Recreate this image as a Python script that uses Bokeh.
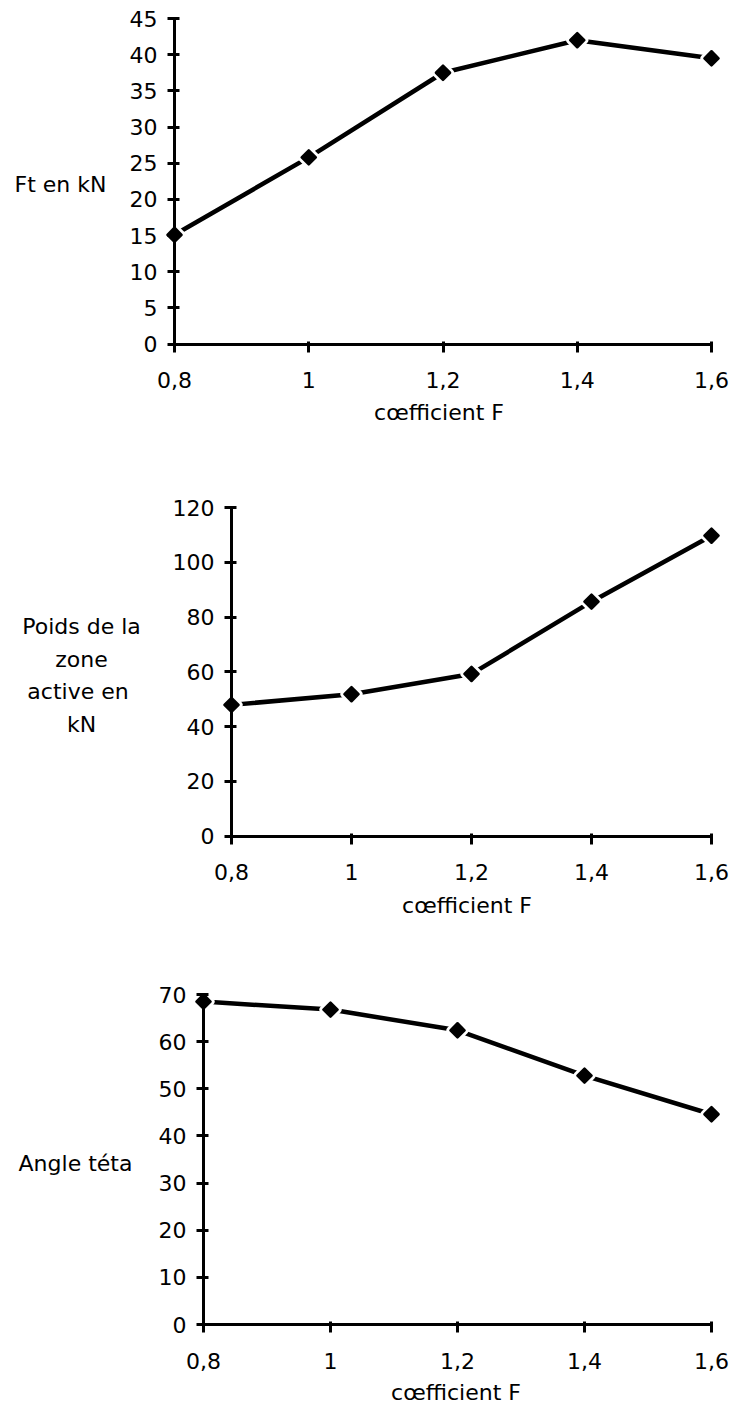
import math
from bokeh.plotting import figure
from bokeh.models import Range1d, FixedTicker, Label
from bokeh.layouts import column
from bokeh.embed import file_html
from bokeh.resources import INLINE

# ---------------- data ----------------
F = [0.8, 1.0, 1.2, 1.4, 1.6]
x_ticks = [0.8, 1.0, 1.2, 1.4, 1.6]
x_tick_labels = ["0,8", "1", "1,2", "1,4", "1,6"]
x_title = "cœfficient  F"

ft_kN = [15.1, 25.8, 37.5, 42.0, 39.5]
ft_ticks = [0, 5, 10, 15, 20, 25, 30, 35, 40, 45]
ft_title = "Ft en kN"

poids_kN = [47.9, 51.8, 59.2, 85.6, 109.7]
poids_ticks = [0, 20, 40, 60, 80, 100, 120]
poids_title = "Poids de la\nzone\nactive  en\nkN"

angle_teta = [68.5, 66.8, 62.4, 52.8, 44.6]
angle_ticks = [0, 10, 20, 30, 40, 50, 60, 70]
angle_title = "Angle téta"

FONT = "DejaVu Sans"
W = 736


def make_panel(ys, y_ticks, y_title, H, px_x0, px_x1, px_y0, px_y1,
               ytitle_px, xtitle_px):
    """px_* : pixel positions (inside this figure) of the axis ends."""
    x0, x1 = x_ticks[0], x_ticks[-1]
    y0, y1 = y_ticks[0], y_ticks[-1]
    sx = (px_x1 - px_x0) / (x1 - x0)
    sy = (px_y0 - px_y1) / (y1 - y0)

    def dx(px):
        return x0 + (px - px_x0) / sx

    def dy(py):
        return y0 + (px_y0 - py) / sy

    p = figure(width=W, height=H, output_backend="svg", toolbar_location=None,
               x_range=Range1d(dx(0), dx(W)), y_range=Range1d(dy(H), dy(0)),
               min_border_left=0, min_border_right=0,
               min_border_top=0, min_border_bottom=0)
    p.outline_line_color = None
    p.grid.visible = False
    p.background_fill_color = "white"
    p.border_fill_color = "white"

    for ax in (p.xaxis[0], p.yaxis[0]):
        ax.axis_line_width = 3
        ax.axis_line_color = "black"
        ax.major_tick_line_width = 3
        ax.major_tick_line_color = "black"
        ax.minor_tick_line_color = None
        ax.major_label_text_font = FONT
        ax.major_label_text_font_size = "22px"
        ax.major_label_text_color = "black"

    xa = p.xaxis[0]
    xa.ticker = FixedTicker(ticks=x_ticks)
    xa.major_label_overrides = dict(zip(x_ticks, x_tick_labels))
    xa.fixed_location = y0
    xa.bounds = (x0, x1)
    xa.major_tick_in = 3
    xa.major_tick_out = 8
    xa.major_label_standoff = 20

    ya = p.yaxis[0]
    ya.ticker = FixedTicker(ticks=y_ticks)
    ya.fixed_location = x0
    ya.bounds = (y0, y1)
    ya.major_tick_in = 5
    ya.major_tick_out = 7
    ya.major_label_standoff = 10

    p.line(F, ys, line_width=4.5, line_color="black")
    p.scatter(F, ys, marker="square", angle=math.pi / 4, size=10, fill_color="white",
              line_color="white", line_width=8, line_join="round")
    p.scatter(F, ys, marker="square", angle=math.pi / 4, size=10, fill_color="black",
              line_color="black", line_width=2.5, line_join="round", level="overlay")

    p.add_layout(Label(x=dx(ytitle_px[0]), y=dy(ytitle_px[1]), text=y_title,
                       text_font=FONT, text_font_size="22px", text_color="black",
                       text_align="center", text_baseline="middle",
                       text_line_height=1.3))
    p.add_layout(Label(x=dx(xtitle_px[0]), y=dy(xtitle_px[1]), text=x_title,
                       text_font=FONT, text_font_size="22px", text_color="black",
                       text_align="center", text_baseline="middle"))
    return p


p1 = make_panel(ft_kN, ft_ticks, ft_title, H=470,
                px_x0=174, px_x1=711, px_y0=343.5, px_y1=18,
                ytitle_px=(60, 184), xtitle_px=(442, 412))
p2 = make_panel(poids_kN, poids_ticks, poids_title, H=485,
                px_x0=231, px_x1=711, px_y0=365.5, px_y1=37,
                ytitle_px=(81, 205), xtitle_px=(470, 435))
p3 = make_panel(angle_teta, angle_ticks, angle_title, H=451,
                px_x0=203, px_x1=711, px_y0=369, px_y1=39,
                ytitle_px=(75, 208), xtitle_px=(459, 437))

layout = column(p1, p2, p3, spacing=0)
open("out.html", "w").write(file_html(layout, INLINE))
